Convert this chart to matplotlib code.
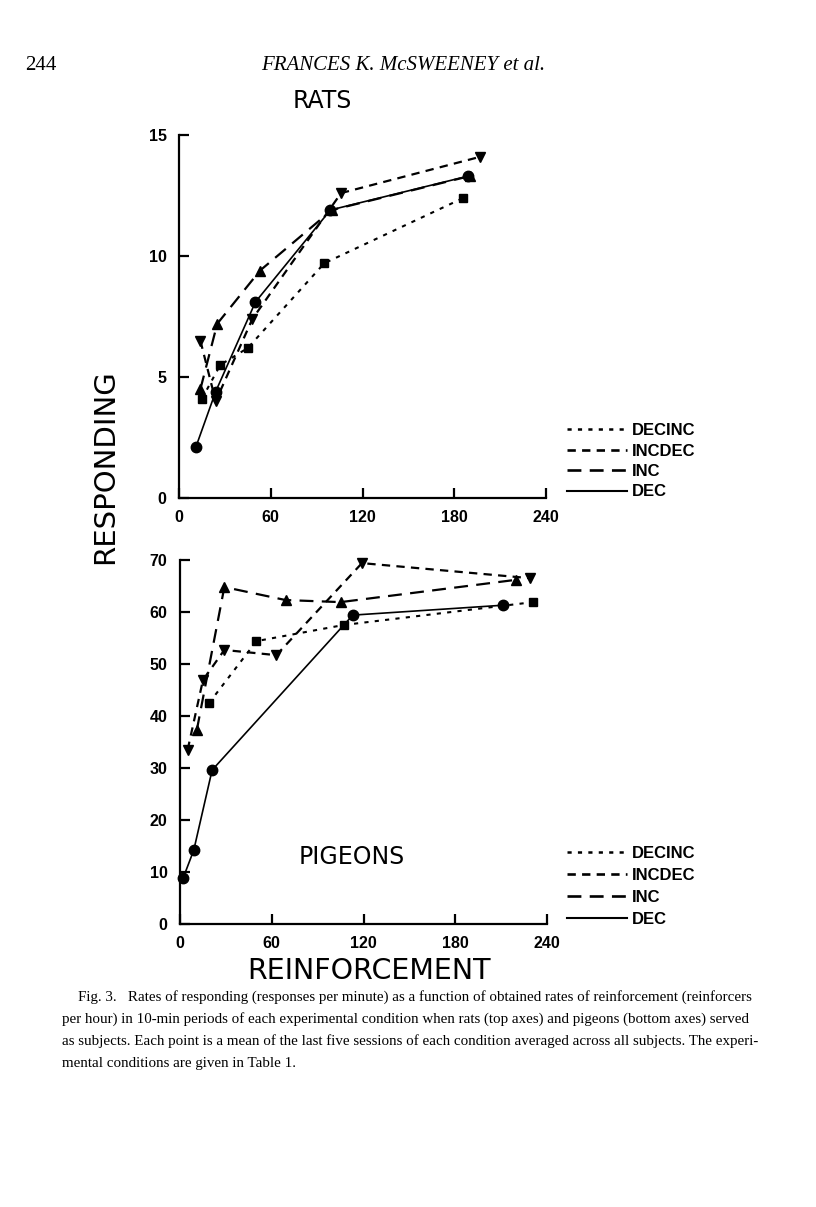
import matplotlib
matplotlib.use('Agg')
import matplotlib.pyplot as plt
from matplotlib.lines import Line2D

plt.rcParams['lines.scale_dashes'] = False
plt.rcParams['font.family'] = ['DejaVu Sans']

# ---------------- data ----------------
conditions = ['DECINC', 'INCDEC', 'INC', 'DEC']

x_ticks = [0, 60, 120, 180, 240]
rat_y_ticks = [0, 5, 10, 15]
pig_y_ticks = [0, 10, 20, 30, 40, 50, 60, 70]

# Rats (top axes): reinforcers per hour vs responses per minute
rat_decinc_x = [15, 27, 45, 95, 186]
rat_decinc_y = [4.1, 5.5, 6.2, 9.7, 12.4]
rat_incdec_x = [14, 24, 48, 106, 197]
rat_incdec_y = [6.5, 4.0, 7.4, 12.6, 14.1]
rat_inc_x = [14, 25, 53, 100, 190]
rat_inc_y = [4.5, 7.2, 9.4, 11.9, 13.3]
rat_dec_x = [11, 24, 50, 99, 189]
rat_dec_y = [2.1, 4.4, 8.1, 11.9, 13.3]

# Pigeons (bottom axes)
pig_decinc_x = [19, 50, 107, 231]
pig_decinc_y = [42.5, 54.4, 57.5, 61.9]
pig_incdec_x = [5, 15, 29, 63, 119, 229]
pig_incdec_y = [33.5, 46.9, 52.7, 51.7, 69.4, 66.5]
pig_inc_x = [11, 29, 69, 105, 220]
pig_inc_y = [37.3, 64.8, 62.3, 61.9, 66.2]
pig_dec_x = [2, 9, 21, 113, 211]
pig_dec_y = [8.8, 14.2, 29.6, 59.4, 61.3]

rat_series = {
    'DECINC': (rat_decinc_x, rat_decinc_y),
    'INCDEC': (rat_incdec_x, rat_incdec_y),
    'INC': (rat_inc_x, rat_inc_y),
    'DEC': (rat_dec_x, rat_dec_y),
}
pig_series = {
    'DECINC': (pig_decinc_x, pig_decinc_y),
    'INCDEC': (pig_incdec_x, pig_incdec_y),
    'INC': (pig_inc_x, pig_inc_y),
    'DEC': (pig_dec_x, pig_dec_y),
}

# ---------------- styles ----------------
styles = {
    'DECINC': dict(dashes=(3, 4.5), marker='s', ms=5.5, lw=1.5),
    'INCDEC': dict(dashes=(6, 4.5), marker='v', ms=6.5, lw=1.6),
    'INC': dict(dashes=(10, 6), marker='^', ms=6.5, lw=1.6),
    'DEC': dict(dashes=None, marker='o', ms=7.5, lw=1.2),
}

W, H = 816, 1207
fig = plt.figure(figsize=(W / 100, H / 100), dpi=100)
fig.patch.set_facecolor('white')


def fx(px):
    return px / W


def fy(py):
    return 1 - py / H


def style_axes(ax, ymax, yticks):
    ax.set_xlim(0, 240)
    ax.set_ylim(0, ymax)
    ax.set_xticks(x_ticks)
    ax.set_yticks(yticks)
    for s in ['top', 'right']:
        ax.spines[s].set_visible(False)
    for s in ['left', 'bottom']:
        ax.spines[s].set_linewidth(1.6)
    ax.tick_params(direction='in', length=7, width=1.6, labelsize=11.5,
                   pad=9)
    for lab in ax.get_xticklabels() + ax.get_yticklabels():
        lab.set_fontweight('bold')
        lab.set_family('Liberation Sans')


def plot_series(ax, series):
    for name in conditions:
        xs, ys = series[name]
        st = styles[name]
        line, = ax.plot(xs, ys, color='black', lw=st['lw'], marker=st['marker'],
                        ms=st['ms'], mfc='black', mec='black', clip_on=False)
        if st['dashes'] is not None:
            line.set_dashes(st['dashes'])


def add_legend(ax, top_px, spacing):
    handles = []
    for name in conditions:
        st = styles[name]
        h = Line2D([0], [0], color='black', lw=st['lw'] + 0.3)
        if st['dashes'] is not None:
            h.set_dashes(st['dashes'])
        handles.append(h)
    leg = ax.legend(handles, conditions, loc='upper left',
                    bbox_to_anchor=(fx(567), fy(top_px)),
                    bbox_transform=fig.transFigure, frameon=False,
                    borderaxespad=0, borderpad=0, handlelength=3.6,
                    handletextpad=0.3, labelspacing=spacing,
                    prop=dict(family='Liberation Sans', weight='bold', size=12))
    return leg


ax1 = fig.add_axes([fx(179), fy(498), fx(546) - fx(179), fy(135) - fy(498)])
style_axes(ax1, 15, rat_y_ticks)
plot_series(ax1, rat_series)
add_legend(ax1, 423, 0.33)

ax2 = fig.add_axes([fx(180), fy(924), fx(547) - fx(180), fy(560) - fy(924)])
style_axes(ax2, 70, pig_y_ticks)
plot_series(ax2, pig_series)
add_legend(ax2, 846, 0.41)

# ---------------- texts ----------------
fig.text(fx(322), fy(101), 'RATS', ha='center', va='center', fontsize=17,
         family='DejaVu Sans')
fig.text(fx(352), fy(857), 'PIGEONS', ha='center', va='center', fontsize=17,
         family='DejaVu Sans')
fig.text(fx(105), fy(467), 'RESPONDING', ha='center', va='center', fontsize=21,
         rotation=90, family='DejaVu Sans')
fig.text(fx(369), fy(971), 'REINFORCEMENT', ha='center', va='center',
         fontsize=20.5, family='DejaVu Sans')

fig.text(fx(25), fy(65), '244', ha='left', va='center', fontsize=15,
         family='Liberation Serif')
fig.text(fx(403), fy(65), 'FRANCES K. McSWEENEY et al.', ha='center',
         va='center', fontsize=15, family='Liberation Serif', style='italic')

caption = [
    (78, 'Fig. 3.   Rates of responding (responses per minute) as a function of obtained rates of reinforcement (reinforcers'),
    (62, 'per hour) in 10-min periods of each experimental condition when rats (top axes) and pigeons (bottom axes) served'),
    (62, 'as subjects. Each point is a mean of the last five sessions of each condition averaged across all subjects. The experi-'),
    (62, 'mental conditions are given in Table 1.'),
]
for i, (x0, line) in enumerate(caption):
    fig.text(fx(x0), fy(997 + i * 22), line, ha='left', va='center',
             fontsize=10.8, family='Liberation Serif')

fig.savefig('out.png', dpi=100, facecolor='white')
